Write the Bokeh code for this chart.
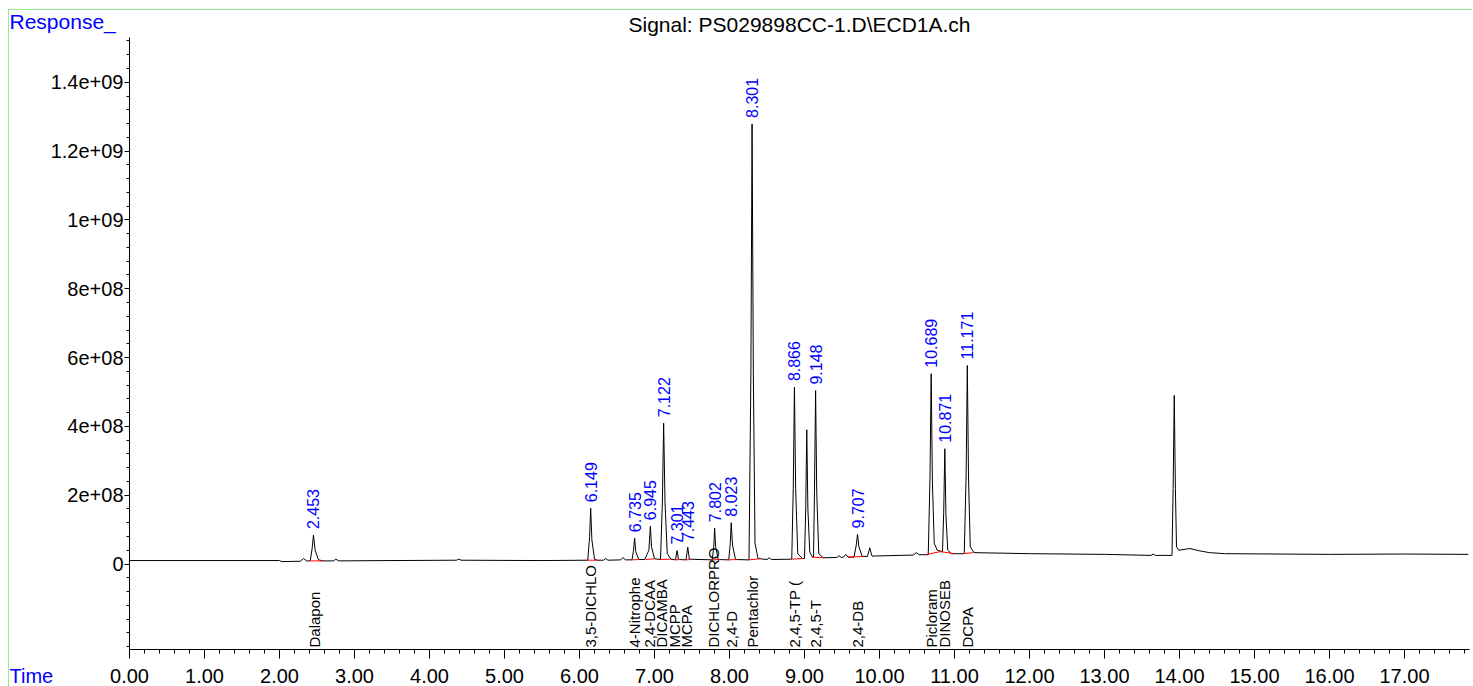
import math
from bokeh.plotting import figure
from bokeh.layouts import column
from bokeh.models import ColumnDataSource, FixedTicker, Label, Range1d, NumeralTickFormatter
from bokeh.embed import file_html
from bokeh.resources import INLINE
from bokeh.core.properties import value

FONT = "Liberation Sans"
SCALE = 1e6  # responses below are in millions

# ---- chromatogram trace (time in min, response in millions) ----
trace_time = [
    0.00, 2.00, 2.03, 2.28, 2.32, 2.36, 2.41, 2.435, 2.453, 2.475, 2.52, 2.58,
    2.72, 2.75, 2.79, 3.50, 4.36, 4.39, 4.42, 5.50,
    6.11, 6.135, 6.149, 6.165, 6.20, 6.24, 6.32, 6.35, 6.38, 6.55, 6.58, 6.61,
    6.70, 6.72, 6.735, 6.75, 6.79, 6.87, 6.90, 6.925, 6.945, 6.96, 7.00,
    7.08, 7.105, 7.122, 7.14, 7.17, 7.22, 7.28, 7.301, 7.32, 7.42, 7.443, 7.465,
    7.77, 7.79, 7.802, 7.815, 7.85, 7.99, 8.01, 8.023, 8.04, 8.08,
    8.26, 8.285, 8.301, 8.318, 8.34, 8.38, 8.50, 8.53, 8.56,
    8.83, 8.85, 8.866, 8.882, 8.91, 8.97, 9.00, 9.017, 9.03, 9.045, 9.07, 9.10,
    9.12, 9.133, 9.148, 9.163, 9.19, 9.25, 9.43, 9.46, 9.49, 9.52, 9.55, 9.58,
    9.66, 9.69, 9.707, 9.725, 9.77, 9.84, 9.87, 9.90, 10.45, 10.49, 10.53,
    10.65, 10.673, 10.689, 10.705, 10.73, 10.77, 10.84, 10.856, 10.871, 10.886,
    10.91, 10.96, 11.13, 11.155, 11.171, 11.187, 11.21, 11.26, 12.00, 13.00,
    13.62, 13.65, 13.68, 13.90, 13.915, 13.93, 13.945, 13.96, 13.99, 14.08,
    14.14, 14.25, 14.40, 14.60, 15.30, 16.00, 17.00, 17.85,
]
trace_resp = [
    10, 10, 7, 8, 16, 9, 9, 45, 84, 40, 12, 9,
    9, 14, 9, 10, 11, 14, 11, 10,
    11, 80, 162, 70, 14, 11, 11, 16, 11, 12, 19, 12,
    12, 40, 75, 36, 13, 13, 28, 40, 110, 50, 15,
    13, 180, 409, 180, 30, 14, 12, 39, 13, 12, 49, 14,
    12, 50, 104, 50, 13, 12, 60, 120, 55, 13,
    12, 550, 1279, 550, 60, 16, 13, 18, 13,
    14, 220, 514, 220, 30, 16, 16, 170, 390, 160, 35, 22,
    20, 210, 504, 210, 30, 18, 19, 24, 19, 20, 28, 20,
    20, 55, 86, 50, 22, 22, 47, 23, 26, 33, 27,
    27, 250, 553, 240, 60, 40, 36, 150, 335, 140,
    40, 30, 30, 260, 577, 250, 50, 33, 30, 28,
    25, 29, 25, 25, 220, 490, 220, 50, 40, 43,
    45, 39, 33, 30, 29, 28, 29, 28,
]

# ---- integrated peaks ----
peak_rt = [2.453, 6.149, 6.735, 6.945, 7.122, 7.301, 7.443, 7.802, 8.023,
           8.301, 8.866, 9.148, 9.707, 10.689, 10.871, 11.171]
peak_apex = [84, 162, 75, 110, 409, 39, 49, 104, 120,
             1279, 514, 504, 86, 553, 335, 577]
peak_text = ["2.453", "6.149", "6.735", "6.945", "7.122", "7.301", "7.443", "7.802", "8.023",
             "8.301", "8.866", "9.148", "9.707", "10.689", "10.871", "11.171"]

# integration baselines (red)
base_t0 = [2.41, 6.10, 6.70, 6.88, 7.07, 7.28, 7.42, 7.76, 7.98, 8.25, 8.83, 9.10, 9.58, 10.61, 10.81, 11.11]
base_t1 = [2.58, 6.24, 6.80, 7.00, 7.22, 7.34, 7.48, 7.88, 8.10, 8.40, 8.98, 9.25, 9.78, 10.81, 11.00, 11.25]
base_y0 = [9, 11, 12, 13, 13, 12, 12, 12, 12, 12, 14, 20, 20, 27, 36, 30]
base_y1 = [9, 11, 13, 15, 14, 13, 13, 13, 13, 15, 16, 18, 22, 36, 30, 33]

# compound names (expected retention times)
compound_names = ["Dalapon", "3,5-DICHLO", "4-Nitrophe", "2,4-DCAA", "DICAMBA", "MCPP", "MCPA",
                  "DICHLORPRO", "2,4-D", "Pentachlor", "2,4,5-TP (", "2,4,5-T", "2,4-DB",
                  "Picloram", "DINOSEB", "DCPA"]
compound_rt = [2.46, 6.15, 6.73, 6.93, 7.09, 7.26, 7.42, 7.79, 8.02, 8.30, 8.87, 9.14, 9.71,
               10.69, 10.87, 11.17]

# axis ticks
x_ticks = list(range(0, 18))
y_ticks = [0, 2e8, 4e8, 6e8, 8e8, 1e9, 1.2e9, 1.4e9]
y_tick_labels = ["0", "2e+08", "4e+08", "6e+08", "8e+08", "1e+09", "1.2e+09", "1.4e+09"]

title_text = "Signal: PS029898CC-1.D\\ECD1A.ch"
y_caption = "Response_"
x_caption = "Time"

# ---- layout constants (pixels) ----
TOTAL_W = 1472
HEAD_H = 36
MAIN_H = 650
BL, BT, BB, BR = 129, 1, 37, 3
FRAME_W = TOTAL_W - BL - BR
FRAME_TOP = HEAD_H + BT          # page y of frame top
FRAME_BOTTOM = HEAD_H + MAIN_H - BB
PX_PER_MIN = 75.0
X_END = FRAME_W / PX_PER_MIN
UNIT_PER_PX = 2.906e6
ZERO_Y = 563.5                   # page y of response 0
Y_END = (ZERO_Y - FRAME_TOP) * UNIT_PER_PX
Y_START = -(FRAME_BOTTOM - ZERO_Y) * UNIT_PER_PX

# ---- header strip: caption + title (frame aligned with the chart frame) ----
head = figure(width=TOTAL_W, height=HEAD_H, output_backend="svg", toolbar_location=None,
              x_range=Range1d(0, FRAME_W), y_range=Range1d(0, HEAD_H),
              x_axis_type=None, y_axis_type=None,
              min_border_left=BL, min_border_right=BR, min_border_top=0, min_border_bottom=0)
head.outline_line_color = None
head.background_fill_color = None
head.border_fill_color = None
head.add_layout(Label(x=FRAME_W / 2, y=HEAD_H - 24, text=title_text, text_color="black",
                      text_font=FONT, text_font_size="21px", text_baseline="middle",
                      text_align="center"))
# caption in the header's left side panel (not clipped)
head.add_layout(Label(x=-14, y=HEAD_H - 21, x_units="screen", y_units="screen",
                      text=y_caption, text_color="blue", text_font=FONT,
                      text_font_size="21px", text_baseline="middle", text_align="left"), "left")

# ---- main chromatogram ----
p = figure(width=TOTAL_W, height=MAIN_H, output_backend="svg", toolbar_location=None,
           x_range=Range1d(0, X_END), y_range=Range1d(Y_START, Y_END),
           min_border_left=BL, min_border_top=BT, min_border_right=BR, min_border_bottom=BB)
p.outline_line_color = None
p.xgrid.visible = False
p.ygrid.visible = False
p.background_fill_color = "white"
p.border_fill_color = None

xa = p.xaxis[0]
xa.ticker = FixedTicker(ticks=x_ticks, minor_ticks=[i * 0.2 for i in range(0, 90)])
xa.formatter = NumeralTickFormatter(format="0.00")
xa.major_tick_out = 9
xa.major_tick_in = 0
xa.minor_tick_out = 4
xa.minor_tick_in = 0
xa.major_label_standoff = 10
xa.major_label_text_font = FONT
xa.major_label_text_font_size = "20px"
xa.major_label_text_color = "black"
xa.axis_line_color = "black"
xa.major_tick_line_color = "black"
xa.minor_tick_line_color = "black"

ya = p.yaxis[0]
ya.ticker = FixedTicker(ticks=y_ticks, minor_ticks=[-2.4e8 + i * 4e7 for i in range(0, 45)])
ya.major_label_overrides = {t: s for t, s in zip(y_ticks, y_tick_labels)}
ya.major_tick_out = 5
ya.major_tick_in = 0
ya.minor_tick_out = 3
ya.minor_tick_in = 0
ya.major_label_standoff = 1
ya.major_label_text_font = FONT
ya.major_label_text_font_size = "20px"
ya.major_label_text_color = "black"
ya.axis_line_color = "black"
ya.major_tick_line_color = "black"
ya.minor_tick_line_color = "black"

src = ColumnDataSource(dict(t=trace_time, r=[v * SCALE for v in trace_resp]))
p.line("t", "r", source=src, line_color="black", line_width=1)

bsrc = ColumnDataSource(dict(x0=base_t0, x1=base_t1,
                             y0=[v * SCALE for v in base_y0], y1=[v * SCALE for v in base_y1]))
p.segment("x0", "y0", "x1", "y1", source=bsrc, line_color="red", line_width=1)

psrc = ColumnDataSource(dict(x=peak_rt, y=[v * SCALE for v in peak_apex], txt=peak_text))
p.text("x", "y", text="txt", source=psrc, angle=math.pi / 2, text_align="left",
       text_baseline="middle", y_offset=-6, text_color="#0000ff",
       text_font=value(FONT), text_font_size="16px")

csrc = ColumnDataSource(dict(x=compound_rt, y=[Y_START] * len(compound_rt), txt=compound_names))
p.text("x", "y", text="txt", source=csrc, angle=math.pi / 2, text_align="left",
       text_baseline="middle", y_offset=-2, text_color="black",
       text_font=value(FONT), text_font_size="15px")

# "Time" caption lives in the left side panel (unclipped), next to the x tick labels
p.add_layout(Label(x=6, y=-26, x_units="screen", y_units="screen",
                   text=x_caption, text_color="blue", text_font=FONT,
                   text_font_size="20px", text_baseline="middle", text_align="left"), "left")

GREEN = "#90ee90"
layout = column(head, p, spacing=0, styles={
    "background": (f"linear-gradient({GREEN},{GREEN}) 8px 9px / 100% 1px no-repeat, "
                   f"linear-gradient({GREEN},{GREEN}) 8px 9px / 1px 100% no-repeat")})

open("out.html", "w").write(file_html(layout, INLINE))
